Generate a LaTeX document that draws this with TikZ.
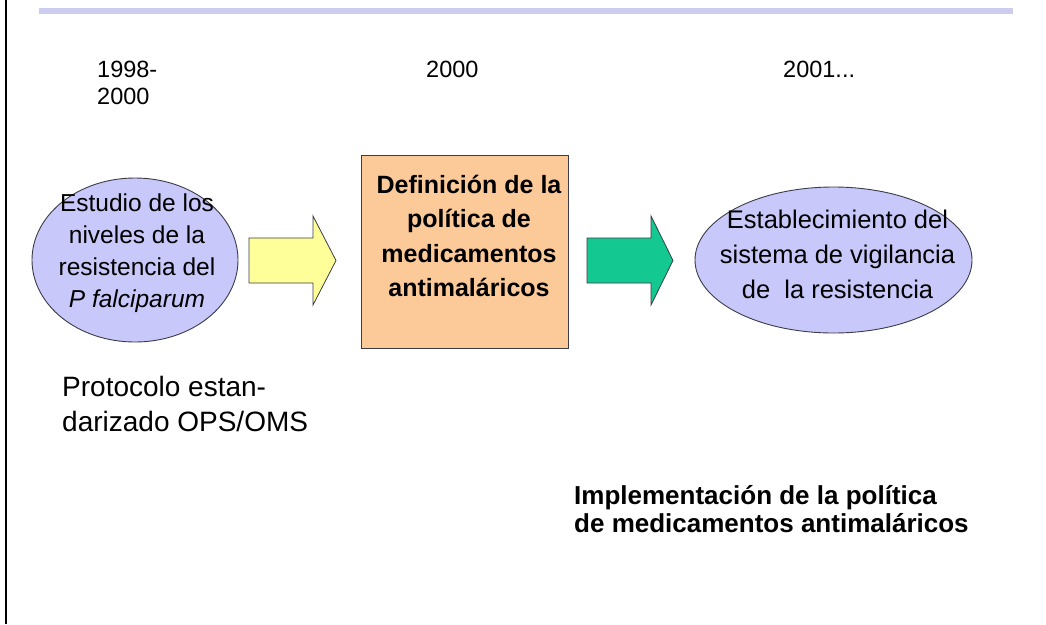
\documentclass[tikz,border=0pt]{standalone}
\usepackage{fontspec}
\setmainfont{Liberation Sans}
\usetikzlibrary{shapes.geometric}
\definecolor{lav}{RGB}{200,200,250}
\definecolor{topline}{RGB}{204,204,238}
\definecolor{orng}{RGB}{252,202,152}
\definecolor{yel}{RGB}{255,255,153}
\definecolor{grn}{RGB}{20,200,145}
\definecolor{edge}{RGB}{60,60,70}
\tikzset{
  yeartext/.style={inner sep=0pt, align=left, font={\fontsize{23.5}{27}\selectfont}},
  oval/.style={ellipse, draw=edge, line width=0.9pt, fill=lav, inner sep=0pt},
  ovaltext/.style={inner sep=0pt, align=center},
  defbox/.style={rectangle, draw=edge, line width=1pt, fill=orng, inner sep=0pt},
  blockarrow/.style={draw=edge, line width=0.8pt},
  notetext/.style={inner sep=0pt, align=left},
}
\begin{document}
\begin{tikzpicture}[x=1pt,y=-1pt]
\useasboundingbox (0,0) rectangle (1046,624);
\fill[white] (0,0) rectangle (1046,624);
% frame line at left and top rule
\draw[black, line width=2pt] (6,0) -- (6,624);
\fill[topline] (39,8) rectangle (1013,14);

% year labels
\node[yeartext, anchor=west] (y1) at (97,83.2) {1998-\\2000};
\node[yeartext, anchor=base west] (y2) at (426,77) {2000};
\node[yeartext, anchor=base west] (y3) at (783,77) {2001...};

% left circle
\node[oval, minimum width=206pt, minimum height=164pt] (est) at (135,260) {};
\node[ovaltext, font={\fontsize{24.5}{32}\selectfont}] (estt) at (137,253)
  {Estudio de los\\niveles de la\\resistencia del\\\textit{P falciparum}};

% central box
\node[defbox, minimum width=207pt, minimum height=193pt] (def) at (464.5,251.5) {};
\node[ovaltext, font={\bfseries\fontsize{25}{34.5}\selectfont}] (deft) at (469,236)
  {Definición de la\\política de\\medicamentos\\antimaláricos};

% right ellipse
\node[oval, minimum width=277pt, minimum height=146pt] (vig) at (833.5,260) {};
\node[ovaltext, font={\fontsize{25.5}{35}\selectfont}] (vigt) at (837.5,254)
  {Establecimiento del\\sistema de vigilancia\\de\ \ la resistencia};

% block arrows
\coordinate (a1) at (249,260.5);
\coordinate (a2) at (587,260.5);
\draw[blockarrow, fill=yel]
  (a1) ++(0,-22.5) -- ++(64,0) -- ++(0,-22) -- ++(23,44.5) -- ++(-23,44.5)
  -- ++(0,-22) -- ++(-64,0) -- cycle;
\draw[blockarrow, fill=grn]
  (a2) ++(0,-22.5) -- ++(64,0) -- ++(0,-22) -- ++(22,44.5) -- ++(-22,44.5)
  -- ++(0,-22) -- ++(-64,0) -- cycle;

% notes
\node[notetext, anchor=west, font={\fontsize{28}{35}\selectfont}] (prot) at (62,404.3)
  {Protocolo estan-\\darizado OPS/OMS};
\node[notetext, anchor=west, font={\bfseries\fontsize{26}{28}\selectfont}] (impl) at (574,509.5)
  {Implementación de la política\\de medicamentos antimaláricos};
\end{tikzpicture}
\end{document}
